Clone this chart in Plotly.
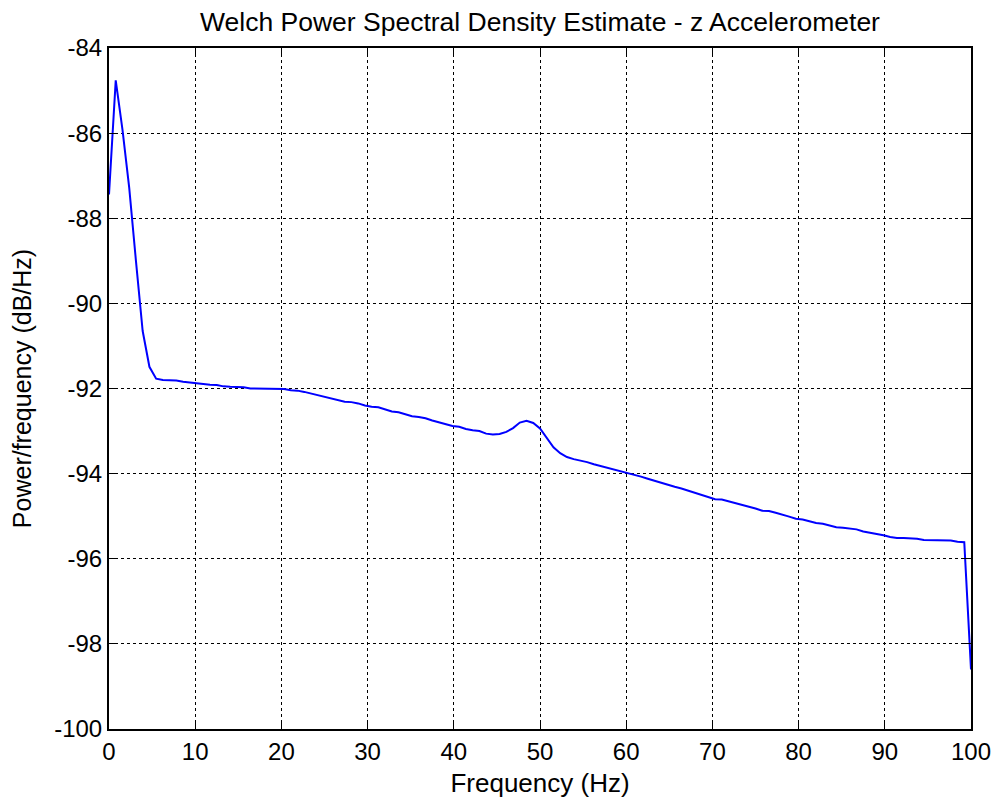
import plotly.graph_objects as go

step = 0.78125
freq_hz = [round(k * step, 5) for k in range(129)]
psd_db = [
    -87.44, -84.76, -85.92, -87.28, -89.00, -90.65, -91.49, -91.77, -91.80, -91.80,
    -91.81, -91.84, -91.86, -91.87, -91.90, -91.91, -91.92, -91.95, -91.96, -91.96,
    -91.97, -92.00, -92.00, -92.00, -92.00, -92.00, -92.01, -92.04, -92.05, -92.08,
    -92.12, -92.16, -92.20, -92.24, -92.28, -92.31, -92.32, -92.35, -92.40, -92.43,
    -92.44, -92.49, -92.54, -92.56, -92.60, -92.65, -92.67, -92.70, -92.75, -92.79,
    -92.84, -92.88, -92.90, -92.95, -92.98, -93.00, -93.06, -93.08, -93.07, -93.02,
    -92.93, -92.80, -92.76, -92.81, -92.94, -93.15, -93.38, -93.52, -93.61, -93.66,
    -93.69, -93.73, -93.78, -93.82, -93.86, -93.90, -93.95, -93.99, -94.03, -94.07,
    -94.12, -94.17, -94.22, -94.26, -94.31, -94.35, -94.40, -94.45, -94.50, -94.55,
    -94.60, -94.61, -94.65, -94.69, -94.74, -94.78, -94.82, -94.87, -94.88, -94.92,
    -94.96, -95.01, -95.06, -95.08, -95.12, -95.16, -95.18, -95.22, -95.26, -95.27,
    -95.29, -95.31, -95.36, -95.39, -95.41, -95.45, -95.49, -95.51, -95.51, -95.52,
    -95.53, -95.56, -95.56, -95.56, -95.56, -95.57, -95.60, -95.61, -98.60,
]

x_ticks = [0, 10, 20, 30, 40, 50, 60, 70, 80, 90, 100]
y_ticks = [-100, -98, -96, -94, -92, -90, -88, -86, -84]

FONT = "Liberation Sans, Arial, sans-serif"

fig = go.Figure()
fig.add_trace(go.Scatter(
    x=freq_hz, y=psd_db, mode="lines",
    line=dict(color="#0000FF", width=2),
    showlegend=False,
))

axis_common = dict(
    showline=True, linecolor="black", linewidth=2, mirror="allticks",
    ticks="inside", ticklen=8, tickwidth=1, tickcolor="black",
    showgrid=True, gridcolor="black", gridwidth=1, griddash="dot",
    zeroline=False,
    tickfont=dict(family=FONT, size=24, color="black"),
)

fig.update_layout(
    width=1003, height=805,
    margin=dict(l=109, r=26, t=48, b=73),
    paper_bgcolor="white", plot_bgcolor="white",
    title=dict(
        text="Welch Power Spectral Density Estimate - z Accelerometer",
        xref="paper", x=0.5, xanchor="center", y=1 - 22 / 805, yanchor="middle",
        font=dict(family=FONT, size=26.5, color="black"),
    ),
    xaxis=dict(
        range=[0, 100], tickvals=x_ticks, ticktext=[str(v) for v in x_ticks],
        title=dict(text="Frequency (Hz)", font=dict(family=FONT, size=26, color="black"), standoff=10),
        **axis_common,
    ),
    yaxis=dict(
        range=[-100, -84], tickvals=y_ticks, ticktext=[str(v) for v in y_ticks],
        title=dict(text="Power/frequency (dB/Hz)", font=dict(family=FONT, size=25, color="black"), standoff=15),
        **axis_common,
    ),
)

fig.write_html("out.html")
